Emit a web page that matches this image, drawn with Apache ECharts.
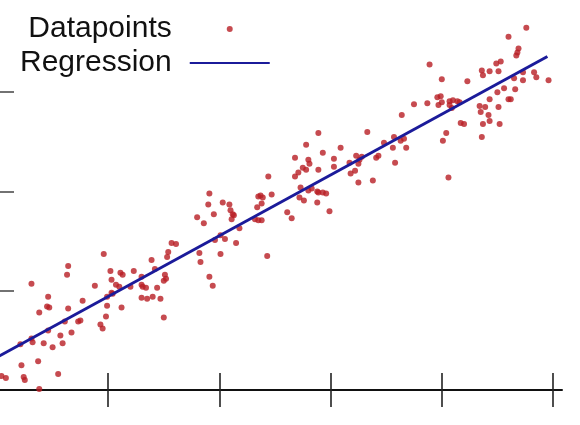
<!DOCTYPE html>
<html>
<head>
<meta charset="utf-8">
<script src="https://cdn.jsdelivr.net/npm/echarts@6/dist/echarts.min.js"></script>
<style>
  html, body { margin: 0; padding: 0; background: #fff; }
  #chart { width: 580px; height: 425px; }
</style>
</head>
<body>
<div id="chart"></div>
<script>
// scatter points (axis units: one tick = 1)
const pointX = [
  0.96, 0.64, 0.63, 0.31, 0.88, 1.02, 0.46, 0.77, 0.45, 0.47, 0.64, 0.38, 0.99, 0.99, 0.98, 0.73,
  0.75, 0.61, 0.93, 0.95, 0.46, 0.67, 0.57, 0.31, 0.32, 0.21, 0.42, 0.59, 0.50, 0.37, 0.22, 0.08,
  0.24, 0.25, 0.55, 0.38, 1.12, 0.04,
  1.80, 1.57, 1.61, 1.54, 1.53, 1.39, 1.82, 1.83, 1.23, 1.11, 1.13, 1.42, 1.51, 1.52, 1.50, 1.03,
  1.07, 1.10, 1.30, 1.20, 1.30, 1.31, 1.34, 1.44, 1.03, 1.04, 1.40, 1.30, 1.35, 1.47, 1.50,
  2.44, 1.91, 2.03, 1.90, 2.09, 2.35, 2.37, 2.39, 2.47, 2.38, 2.34, 2.10, 2.12, 2.13, 1.95, 2.11,
  1.86, 2.32, 2.35, 2.38, 2.61, 2.18, 2.01, 1.96, 2.05, 2.15, 2.01, 2.43, 1.91, 1.94,
  2.89, 3.33, 2.78, 3.09, 2.68, 2.93, 2.80, 2.81, 3.03, 3.23, 3.26, 3.28, 3.17, 3.25, 3.41, 3.43,
  3.48, 2.75, 2.78, 2.89, 3.03, 2.71, 2.68, 3.22, 3.18, 3.25, 3.38, 2.73, 2.80, 2.83, 2.88, 2.89,
  2.93, 2.96, 2.72, 2.76, 2.88, 2.99, 2.65,
  3.89, 4.00, 4.23, 3.96, 3.99, 3.97, 4.00, 4.07, 4.10, 4.14, 4.07, 4.09, 4.16, 3.87, 3.75, 3.64,
  4.17, 4.20, 4.04, 4.01, 3.57, 3.63, 3.66, 3.56, 3.68, 3.58, 4.06,
  4.76, 4.60, 4.69, 4.68, 4.67, 4.53, 4.49, 4.36, 4.37, 4.43, 4.51, 4.83, 4.85, 4.73, 4.65, 4.73,
  4.96, 4.56, 4.50, 4.66, 4.43, 4.60, 4.62, 4.34, 4.39, 4.35, 4.51, 4.42, 4.43, 4.37, 4.52, 4.36
]
const pointY = [
  1.37, 1.25, 1.16, 1.07, 1.05, 1.20, 0.94, 0.90, 0.84, 0.83, 0.82, 0.78, 0.94, 0.85, 0.74, 0.69,
  0.70, 0.69, 0.66, 0.62, 0.60, 0.58, 0.55, 0.52, 0.48, 0.46, 0.47, 0.47, 0.43, 0.29, 0.25, 0.12,
  0.13, 0.10, 0.16, 0.01, 0.83, 0.14,
  1.74, 1.48, 1.47, 1.39, 1.34, 1.31, 1.38, 1.29, 1.20, 1.18, 1.16, 1.22, 1.16, 1.12, 1.10, 1.11,
  1.06, 1.04, 1.14, 1.04, 1.06, 1.04, 1.03, 1.03, 0.98, 0.97, 0.94, 0.93, 0.92, 0.92, 0.73,
  2.15, 1.98, 1.89, 1.87, 1.87, 1.95, 1.96, 1.94, 1.97, 1.88, 1.84, 1.81, 1.77, 1.76, 1.77, 1.72,
  1.68, 1.72, 1.71, 1.71, 1.79, 1.63, 1.56, 1.51, 1.52, 1.48, 1.37, 1.35, 1.14, 1.05,
  2.59, 2.60, 2.47, 2.44, 2.34, 2.39, 2.32, 2.28, 2.33, 2.36, 2.32, 2.35, 2.29, 2.28, 2.34, 2.36,
  2.49, 2.24, 2.22, 2.22, 2.25, 2.19, 2.15, 2.21, 2.18, 2.09, 2.11, 2.04, 2.01, 2.03, 2.00, 1.99,
  1.99, 1.98, 1.94, 1.91, 1.89, 1.80, 1.73,
  3.28, 3.13, 3.11, 2.95, 2.96, 2.87, 2.90, 2.91, 2.92, 2.91, 2.87, 2.84, 2.90, 2.89, 2.88, 2.77,
  2.69, 2.68, 2.59, 2.51, 2.55, 2.51, 2.53, 2.44, 2.44, 2.29, 2.14,
  3.65, 3.56, 3.44, 3.40, 3.37, 3.31, 3.29, 3.22, 3.17, 3.21, 3.21, 3.20, 3.15, 3.20, 3.14, 3.12,
  3.12, 3.04, 3.00, 3.03, 2.93, 2.93, 2.93, 2.86, 2.85, 2.80, 2.85, 2.77, 2.71, 2.68, 2.68, 2.55
]

// regression line end points
const lineX = [0, 4.95]
const lineY = [0.33, 3.36]

const xTicks = [1, 2, 3, 4, 5]
const yTicks = [1, 2, 3]

const chart = echarts.init(document.getElementById('chart'), null, { renderer: 'canvas' })

const scatterData = pointX.map((x, i) => [x, pointY[i]])
const lineData = lineX.map((x, i) => [x, lineY[i]])

// the picture is cropped: x = 0 sits just left of the frame
const xBase = {
  type: 'value',
  min: 0.027,
  max: 5.081,
  position: 'bottom',
  splitLine: { show: false },
  axisLabel: { show: false }
}

const option = {
  animation: false,
  backgroundColor: '#fff',
  grid: { left: 0, right: 18, top: 0, bottom: 35, containLabel: false },
  legend: {
    orient: 'vertical',
    align: 'right',
    left: 20,
    top: 14,
    padding: 0,
    itemGap: 4,
    itemWidth: 80,
    itemHeight: 6,
    textStyle: {
      fontFamily: '"Liberation Sans", Arial, sans-serif',
      fontSize: 30,
      color: '#111',
      padding: [0, 13, 5, 0]
    },
    data: ['Datapoints', { name: 'Regression', itemStyle: { opacity: 0 } }]
  },
  xAxis: [
    Object.assign({}, xBase, {
      axisLine: { show: true, onZero: false, lineStyle: { color: '#111', width: 2 } },
      axisTick: { show: true, inside: false, length: 17, customValues: xTicks, lineStyle: { color: '#222', width: 1.6 } }
    }),
    Object.assign({}, xBase, {
      axisLine: { show: false },
      axisTick: { show: true, inside: true, length: 17, customValues: xTicks, lineStyle: { color: '#222', width: 1.6 } }
    })
  ],
  yAxis: {
    type: 'value',
    min: 0,
    max: 3.929,
    splitLine: { show: false },
    axisLabel: { show: false },
    axisLine: { show: false },
    axisTick: { show: true, inside: true, length: 14, customValues: yTicks, lineStyle: { color: '#444', width: 1.5 } }
  },
  series: [
    {
      name: 'Datapoints',
      type: 'scatter',
      data: scatterData,
      symbolSize: 6,
      itemStyle: { color: '#b81e24' }
    },
    {
      name: 'Regression',
      type: 'line',
      data: lineData,
      symbol: 'none',
      lineStyle: { color: '#1b1b9a', width: 3 }
    }
  ]
}

chart.setOption(option)
</script>
</body>
</html>
